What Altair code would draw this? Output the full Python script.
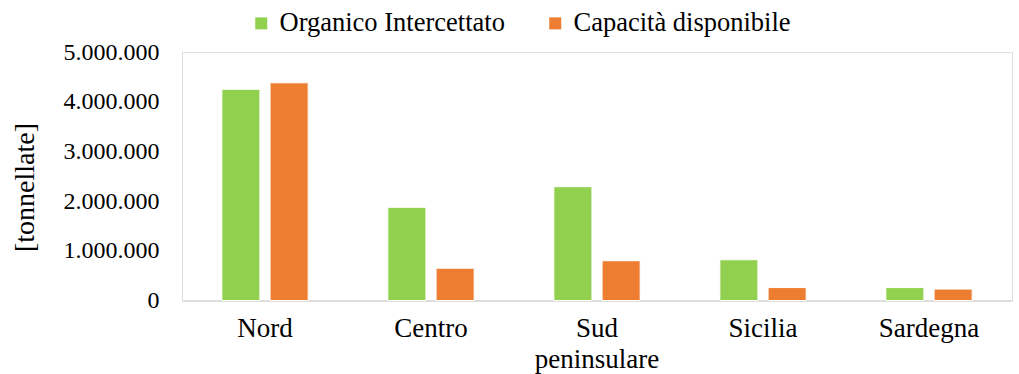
import altair as alt
import pandas as pd

regions = ["Nord", "Centro", "Sud peninsulare", "Sicilia", "Sardegna"]
series = ["Organico Intercettato", "Capacità disponibile"]
organico = [4250000, 1875000, 2290000, 820000, 260000]
capacita = [4380000, 650000, 800000, 260000, 230000]
colors = ["#92d050", "#ed7d31"]
y_ticks = [0, 1000000, 2000000, 3000000, 4000000, 5000000]

rows = []
for r, o, c in zip(regions, organico, capacita):
    rows.append({"regione": r, "serie": series[0], "valore": o})
    rows.append({"regione": r, "serie": series[1], "valore": c})
df = pd.DataFrame(rows)

FONT = "Liberation Serif"

chart = alt.Chart(df).mark_bar(stroke="white", strokeWidth=1).encode(
    x=alt.X("regione:N", sort=regions, title=None,
            scale=alt.Scale(paddingInner=0.48, paddingOuter=0.24),
            axis=alt.Axis(labelAngle=0, ticks=False, domainColor="#d9d9d9", domainWidth=1.5,
                          labelFontSize=27, labelFont=FONT, labelColor="#000000",
                          labelPadding=15, labelLineHeight=31,
                          labelExpr="datum.label == 'Sud peninsulare' ? ['Sud', 'peninsulare'] : datum.label")),
    xOffset=alt.XOffset("serie:N", sort=series, scale=alt.Scale(paddingInner=0.21)),
    y=alt.Y("valore:Q", title="[tonnellate]",
            scale=alt.Scale(domain=[0, 5000000], nice=False),
            axis=alt.Axis(values=y_ticks, format=",d", grid=False, domain=False, ticks=False,
                          labelFontSize=24, labelFont=FONT, labelColor="#000000", labelPadding=23,
                          titleFontSize=28, titleFont=FONT, titleColor="#000000", titleFontWeight="normal",
                          titleX=-157, titleY=135, titleAngle=-90, titleBaseline="middle", titleAlign="center")),
    color=alt.Color("serie:N", sort=series, scale=alt.Scale(domain=series, range=colors),
                    legend=alt.Legend(title=None, orient="none", direction="horizontal",
                                      legendX=66, legendY=-42, symbolType="square", symbolSize=144,
                                      symbolStrokeWidth=0, labelFontSize=26.5, labelFont=FONT,
                                      labelColor="#000000", labelOffset=5, columnPadding=37,
                                      labelLimit=400)),
).properties(
    width=830, height=248.5,
    autosize=alt.AutoSizeParams(type="none"),
    padding={"left": 182, "top": 52, "right": 7, "bottom": 73},
).configure_view(stroke=None).configure(
    locale={"number": {"decimal": ",", "thousands": ".", "grouping": [3], "currency": ["€", ""]}}
)

chart.save("out.html", embed_options={"renderer": "svg", "actions": False})
